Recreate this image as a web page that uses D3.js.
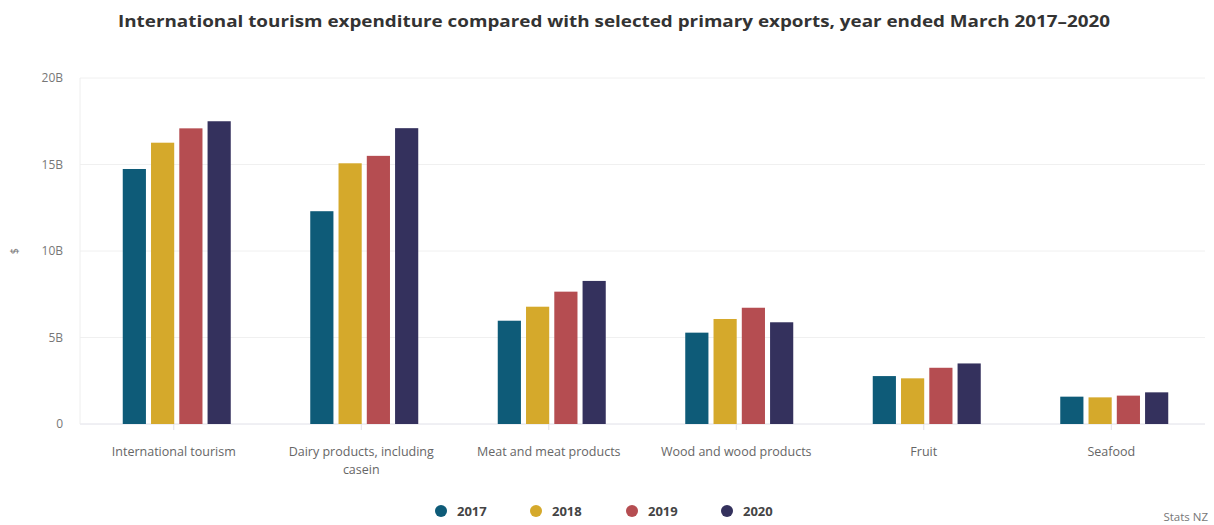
<!DOCTYPE html>
<html><head><meta charset="utf-8">
<script src="https://cdn.jsdelivr.net/npm/d3@7"></script>
<style>body{margin:0;background:#fff}svg{display:block}</style>
</head><body><svg id="c" width="1214" height="525"></svg>
<script>
const categories = ["International tourism","Dairy products, including casein","Meat and meat products","Wood and wood products","Fruit","Seafood"];
const categoryLines = [["International tourism"],["Dairy products, including","casein"],["Meat and meat products"],["Wood and wood products"],["Fruit"],["Seafood"]];
const years = ["2017","2018","2019","2020"];
const v2017 = [14.74, 12.3, 5.97, 5.28, 2.77, 1.58];
const v2018 = [16.26, 15.07, 6.78, 6.07, 2.64, 1.54];
const v2019 = [17.09, 15.5, 7.65, 6.72, 3.25, 1.64];
const v2020 = [17.5, 17.1, 8.27, 5.88, 3.5, 1.83];
const series = [v2017, v2018, v2019, v2020];
const colors = ["#0e5b78", "#d5a92b", "#b54d51", "#34315d"];
const yTicks = [0, 5, 10, 15, 20];
const yTickLabels = ["0", "5B", "10B", "15B", "20B"];

const svg = d3.select("#c");
const L = 80, R = 1205, T = 78, B = 424;
const x = d3.scaleBand().domain(categories).range([L, R]);
const y = d3.scaleLinear().domain([0, 20]).range([B, T]);
const x1 = d3.scaleBand().domain(years).range([0, 108]).paddingInner(0.18);
const font = "'Open Sans', sans-serif";

svg.append("text").attr("x", 614).attr("y", 27).attr("text-anchor", "middle")
  .attr("font-family", font).attr("font-weight", 700).attr("font-size", 16).attr("fill", "#333")
  .attr("textLength", 992).attr("lengthAdjust", "spacingAndGlyphs")
  .text("International tourism expenditure compared with selected primary exports, year ended March 2017\u20132020");

// gridlines
svg.append("g").selectAll("line").data(yTicks).join("line")
  .attr("x1", L).attr("x2", R).attr("y1", d => y(d)).attr("y2", d => y(d))
  .attr("stroke", d => d === 0 ? "#e0e0e8" : "#f0f0f0").attr("stroke-width", 1);
svg.append("line").attr("x1", L).attr("x2", L).attr("y1", T).attr("y2", B).attr("stroke", "#eeeeee");

// y labels
const yAxis = d3.axisLeft(y).tickValues(yTicks).tickFormat((d, i) => yTickLabels[i]).tickSize(0).tickPadding(0);
const gy = svg.append("g").attr("transform", `translate(63,0)`).call(yAxis);
gy.select(".domain").remove();
gy.selectAll("text").attr("font-family", font).attr("font-size", 12).attr("fill", "#777");

svg.append("text").attr("transform", "translate(18,251) rotate(-90)").attr("text-anchor", "middle")
  .attr("font-family", font).attr("font-size", 11).attr("fill", "#777").text("$");

// bars
categories.forEach((c, ci) => {
  const g = svg.append("g").attr("transform", `translate(${x(c) + x.bandwidth() / 2 - 54 + 3},0)`);
  g.selectAll("rect").data(years.map((yr, si) => ({yr, v: series[si][ci], si}))).join("rect")
    .attr("x", d => x1(d.yr)).attr("width", x1.bandwidth())
    .attr("y", d => y(d.v)).attr("height", d => y(0) - y(d.v))
    .attr("fill", d => colors[d.si]);
});

// x ticks and labels
categories.forEach((c, ci) => {
  const cx = x(c) + x.bandwidth() / 2;
  svg.append("line").attr("x1", cx).attr("x2", cx).attr("y1", B).attr("y2", B + 6).attr("stroke", "#e0e0e8");
  categoryLines[ci].forEach((ln, li) => {
    svg.append("text").attr("x", cx).attr("y", 456 + li * 18).attr("text-anchor", "middle")
      .attr("font-family", font).attr("font-size", 12.5).attr("fill", "#666").text(ln);
  });
});

// legend
const lx = [441, 536, 632, 727];
years.forEach((yr, i) => {
  svg.append("circle").attr("cx", lx[i]).attr("cy", 511).attr("r", 6).attr("fill", colors[i]);
  svg.append("text").attr("x", lx[i] + 16).attr("y", 516).attr("font-family", font)
    .attr("font-weight", 700).attr("font-size", 13).attr("fill", "#444").text(yr);
});
svg.append("text").attr("x", 1208).attr("y", 521).attr("text-anchor", "end").attr("font-family", font)
  .attr("font-size", 11.5).attr("fill", "#777").text("Stats NZ");
</script></body></html>
